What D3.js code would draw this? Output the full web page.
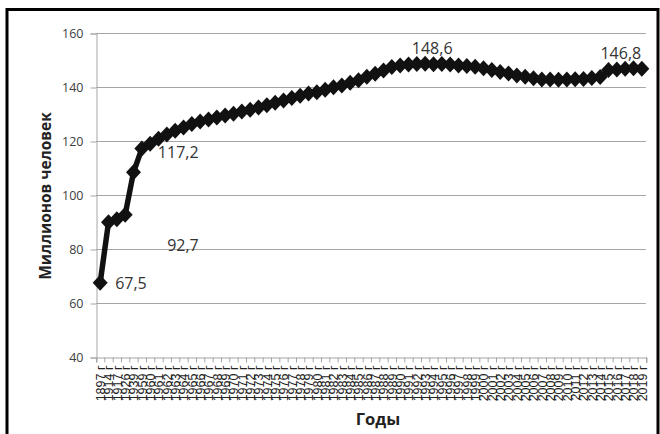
<!DOCTYPE html>
<html><head><meta charset="utf-8">
<script src="https://cdn.jsdelivr.net/npm/d3@7"></script>
<style>body{margin:0;background:#fff}</style>
</head><body><svg id="c" width="660" height="434"></svg>
<script>
const years = ["1897","1914","1917","1926","1939","1959","1960","1961","1962","1963","1964","1965","1966","1967","1968","1969","1970","1971","1972","1973","1974","1975","1976","1977","1978","1979","1980","1981","1982","1983","1984","1985","1986","1987","1988","1989","1990","1991","1992","1993","1994","1995","1996","1997","1998","1999","2000","2001","2002","2003","2004","2005","2006","2007","2008","2009","2010","2011","2012","2013","2014","2015","2016","2017","2018","2019"];
const population = [67.5,89.9,91.0,92.7,108.4,117.2,119.0,120.8,122.4,123.8,125.0,126.3,127.2,128.0,128.7,129.4,130.1,130.9,131.6,132.4,133.2,134.2,135.0,135.9,136.8,137.6,138.1,139.0,139.9,140.6,141.6,142.5,143.8,144.9,146.1,147.4,148.0,148.3,148.5,148.6,148.4,148.5,148.3,148.0,147.8,147.5,146.9,146.3,145.6,145.0,144.3,143.8,143.2,142.8,142.8,142.7,142.8,142.9,143.0,143.3,143.7,146.3,146.5,146.8,146.9,146.8];
const yTicks = [40,60,80,100,120,140,160];
const labelled = [
  {year:"1897", text:"67,5", dx:15, dy:6, anchor:"start"},
  {year:"1926", text:"92,7", dx:42, dy:36, anchor:"start"},
  {year:"1959", text:"117,2", dx:16, dy:9, anchor:"start"},
  {year:"1993", text:"148,6", dx:7, dy:-10, anchor:"middle"},
  {year:"2019", text:"146,8", dx:-21, dy:-10, anchor:"middle"}
];
const labels = years.map(y => y + " г");

const svg = d3.select("#c");
const L = 96, R = 646, T = 33, B = 357;
const x = d3.scaleBand().domain(years).range([L, R]);
const y = d3.scaleLinear().domain([40,160]).range([B, T]);
const cx = d => x(d) + x.bandwidth()/2;

// outer frame
svg.append("rect").attr("x",7).attr("y",9.5).attr("width",651).attr("height",440)
  .attr("fill","none").attr("stroke","#000").attr("stroke-width",3);

// gridlines
svg.append("g").selectAll("line").data(yTicks.filter(v=>v>40)).join("line")
  .attr("x1",L).attr("x2",R).attr("y1",d=>Math.round(y(d))+0.5).attr("y2",d=>Math.round(y(d))+0.5)
  .attr("stroke","#a6a6a6").attr("stroke-width",1);

// y axis
const ya = svg.append("g").attr("transform",`translate(${L+0.5},0.5)`)
  .call(d3.axisLeft(y).tickValues(yTicks).tickSize(6).tickPadding(7).tickFormat(d3.format("d")));
ya.select(".domain").attr("stroke","#a6a6a6");
ya.selectAll(".tick line").attr("stroke","#a6a6a6");
ya.selectAll(".tick text").attr("font-family","Open Sans").attr("font-size",12.5).attr("fill","#404040");

// x axis
const xa = svg.append("g").attr("transform",`translate(0.5,${B+0.5})`)
  .call(d3.axisBottom(x).tickSize(5).tickFormat((d,i)=>labels[i]));
xa.select(".domain").attr("stroke","#a6a6a6");
xa.selectAll(".tick line").attr("stroke","#a6a6a6").attr("transform",`translate(${-x.bandwidth()/2},0)`);
xa.selectAll(".tick text").attr("font-family","Liberation Sans").attr("font-size",12.5).attr("fill","#222")
  .attr("text-anchor","end").attr("dy","0.35em").attr("transform","translate(0,8) rotate(-90)").attr("y",0).attr("x",0);
svg.append("line").attr("x1",R+0.5).attr("x2",R+0.5).attr("y1",B).attr("y2",B+6).attr("stroke","#a6a6a6");

// line
svg.append("path").datum(population)
  .attr("d", d3.line().x((d,i)=>cx(years[i])).y(d=>y(d)))
  .attr("fill","none").attr("stroke","#111").attr("stroke-width",5.5).attr("stroke-linejoin","round");

// markers
svg.append("g").selectAll("path").data(population).join("path")
  .attr("transform",(d,i)=>`translate(${cx(years[i])},${y(d)})`)
  .attr("d","M0,-8L7.5,0L0,8L-7.5,0Z").attr("fill","#111");

// data labels
svg.append("g").selectAll("text").data(labelled).join("text")
  .attr("x",d=>cx(d.year)+d.dx)
  .attr("y",d=>y(population[years.indexOf(d.year)])+d.dy)
  .attr("text-anchor",d=>d.anchor)
  .attr("font-family","Open Sans").attr("font-size",16).attr("fill","#333")
  .text(d=>d.text);

// axis titles
svg.append("text").attr("transform","translate(51,196) rotate(-90)").attr("text-anchor","middle")
  .attr("font-family","Open Sans").attr("font-weight","bold").attr("font-size",15.5).attr("fill","#222")
  .text("Миллионов человек");
svg.append("text").attr("x",378).attr("y",425).attr("text-anchor","middle")
  .attr("font-family","Open Sans").attr("font-weight","bold").attr("font-size",16.5).attr("fill","#222")
  .text("Годы");
</script></body></html>
